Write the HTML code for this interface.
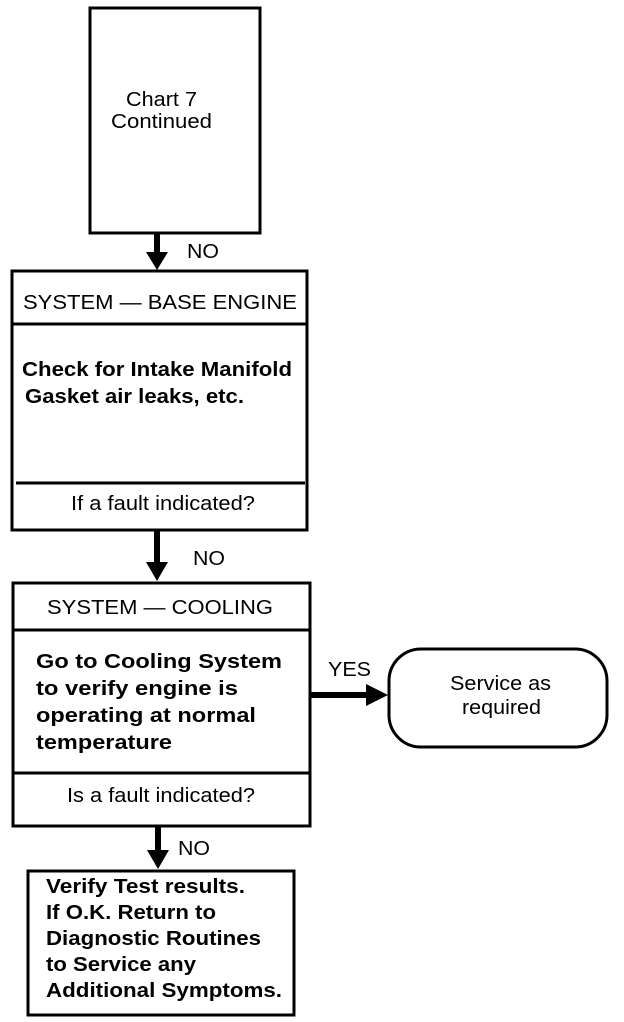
<!DOCTYPE html>
<html><head><meta charset="utf-8"><style>
html,body{margin:0;padding:0;background:#fff}
svg{display:block}
text{font-family:"Liberation Sans",Arial,sans-serif;fill:#000}
</style></head><body>
<svg width="624" height="1022" viewBox="0 0 624 1022" xmlns="http://www.w3.org/2000/svg">
<g fill="none" stroke="#000" stroke-width="3">
<rect x="90" y="8" width="170" height="225"/>
<rect x="12" y="271" width="295" height="259"/>
<line x1="12" y1="324" x2="307" y2="324"/>
<line x1="16" y1="483" x2="305" y2="483"/>
<rect x="13" y="583" width="297" height="243"/>
<line x1="13" y1="630" x2="310" y2="630"/>
<line x1="13" y1="773" x2="310" y2="773"/>
<rect x="28" y="871" width="266" height="144"/>
<rect x="389" y="649" width="218" height="98" rx="32"/>
</g>
<g stroke="#000" stroke-width="6">
<line x1="157" y1="233" x2="157" y2="255"/>
<line x1="157" y1="530" x2="157" y2="563"/>
<line x1="158" y1="826" x2="158" y2="852"/>
<line x1="310" y1="695" x2="368" y2="695"/>
</g>
<g fill="#000">
<polygon points="146,252 168,252 157,270"/>
<polygon points="146,562 168,562 157,581"/>
<polygon points="147,850 169,850 158,869"/>
<polygon points="366,684 366,706 388,695"/>
</g>
<g font-size="20" lengthAdjust="spacingAndGlyphs">
<text x="126" y="106" textLength="71" lengthAdjust="spacingAndGlyphs">Chart 7</text>
<text x="111" y="128" textLength="101" lengthAdjust="spacingAndGlyphs">Continued</text>
<text x="23" y="309" textLength="274" lengthAdjust="spacingAndGlyphs">SYSTEM — BASE ENGINE</text>
<text x="71" y="510" textLength="184" lengthAdjust="spacingAndGlyphs">If a fault indicated?</text>
<text x="47" y="614" textLength="226" lengthAdjust="spacingAndGlyphs">SYSTEM — COOLING</text>
<text x="67" y="802" textLength="188" lengthAdjust="spacingAndGlyphs">Is a fault indicated?</text>
<text x="450" y="690" textLength="101" lengthAdjust="spacingAndGlyphs">Service as</text>
<text x="462" y="714" textLength="79" lengthAdjust="spacingAndGlyphs">required</text>
<text x="187" y="258" textLength="32" lengthAdjust="spacingAndGlyphs">NO</text>
<text x="193" y="565" textLength="32" lengthAdjust="spacingAndGlyphs">NO</text>
<text x="178" y="855" textLength="32" lengthAdjust="spacingAndGlyphs">NO</text>
<text x="328" y="676" textLength="43" lengthAdjust="spacingAndGlyphs">YES</text>
</g>
<g font-size="20" font-weight="bold">
<text x="22" y="376" textLength="270" lengthAdjust="spacingAndGlyphs">Check for Intake Manifold</text>
<text x="25" y="403" textLength="219" lengthAdjust="spacingAndGlyphs">Gasket air leaks, etc.</text>
<text x="36" y="668" textLength="246" lengthAdjust="spacingAndGlyphs">Go to Cooling System</text>
<text x="36" y="695" textLength="202" lengthAdjust="spacingAndGlyphs">to verify engine is</text>
<text x="36" y="722" textLength="220" lengthAdjust="spacingAndGlyphs">operating at normal</text>
<text x="36" y="749" textLength="136" lengthAdjust="spacingAndGlyphs">temperature</text>
<text x="46" y="893" textLength="199" lengthAdjust="spacingAndGlyphs">Verify Test results.</text>
<text x="46" y="919" textLength="170" lengthAdjust="spacingAndGlyphs">If O.K. Return to</text>
<text x="46" y="945" textLength="215" lengthAdjust="spacingAndGlyphs">Diagnostic Routines</text>
<text x="46" y="971" textLength="150" lengthAdjust="spacingAndGlyphs">to Service any</text>
<text x="46" y="997" textLength="236" lengthAdjust="spacingAndGlyphs">Additional Symptoms.</text>
</g>
</svg>
</body></html>
